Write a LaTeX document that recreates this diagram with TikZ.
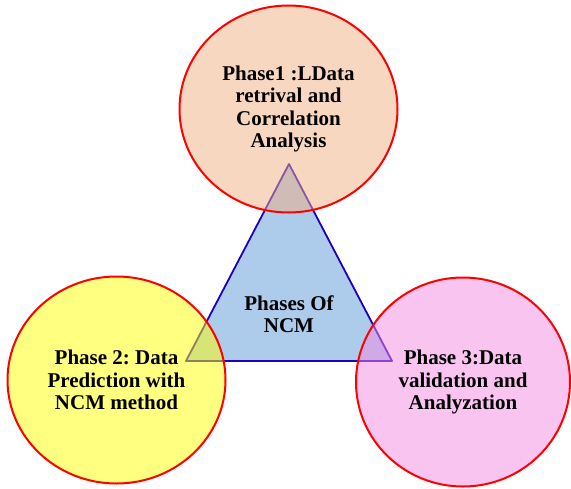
\documentclass[tikz,border=0pt]{standalone}
\usepackage{fontspec}
\setmainfont{Liberation Serif}
\usepackage{xcolor}
\usetikzlibrary{shapes.geometric,positioning}
\definecolor{phedge}{RGB}{255,0,0}
\definecolor{phtri}{RGB}{173,203,234}
\definecolor{phtriedge}{RGB}{32,0,192}
\definecolor{phone}{RGB}{241,175,131}
\definecolor{phtwo}{RGB}{255,255,1}
\definecolor{phthree}{RGB}{243,137,225}
\tikzset{
  phase/.style={
    ellipse, draw=phedge, line width=2pt, fill opacity=0.5, text opacity=1,
    minimum width=218pt, minimum height=207pt, inner sep=0pt,
    align=center, font=\fontsize{21}{22.4}\selectfont\bfseries\frenchspacing
  },
  core/.style={align=center, font=\fontsize{21}{22.4}\selectfont\bfseries},
  every picture/.append style={line join=round}
}
\begin{document}
\begin{tikzpicture}[x=1pt,y=1pt]
  \useasboundingbox (0,0) rectangle (571,-488);
  % Triangle in the middle
  \coordinate (apex) at (289,-164);
  \coordinate (bl) at (186,-361);
  \coordinate (br) at (392,-361);
  \draw[phtriedge, fill=phtri, line width=1.8pt] (apex) -- (bl) -- (br) -- cycle;
  \node[core] (mid) at (289,-314) {Phases Of\\NCM};

  % The three phases
  \node[phase, fill=phone] (one) at (288.5,-109) {Phase1 :LData\\retrival and\\Correlation\\Analysis};
  \node[phase, fill=phtwo] (two) at (116.5,-380) {Phase 2: Data\\Prediction with\\NCM method};
  \node[phase, fill=phthree, minimum width=214pt, minimum height=209pt] (three) at (463,-382) {Phase 3:Data\\validation and\\Analyzation};
\end{tikzpicture}
\end{document}
